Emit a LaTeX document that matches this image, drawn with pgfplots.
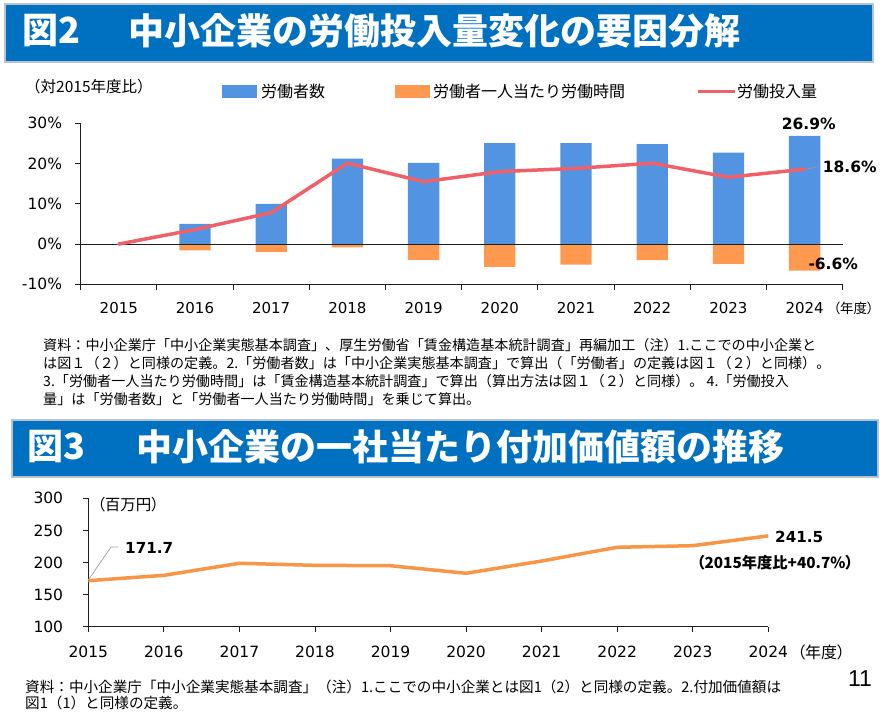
\documentclass[border=0pt]{standalone}
\usepackage{pgfplots}
\pgfplotsset{compat=1.18}
\usepackage{fontspec}
\setmainfont{DejaVu Sans}
\newfontfamily\jpp[RawFeature=+palt]{Noto Sans CJK JP}
\newfontfamily\jp{Noto Sans CJK JP}
\newfontfamily\pnum{Liberation Sans}
\definecolor{bannerblue}{RGB}{0,112,192}
\definecolor{bannerborder}{RGB}{185,195,205}
\definecolor{barblue}{RGB}{83,148,226}
\definecolor{barorange}{RGB}{255,153,80}
\definecolor{linered}{RGB}{240,96,104}
\definecolor{lineorange}{RGB}{247,150,70}
\definecolor{axcol}{RGB}{30,30,30}
\newcommand{\fs}[1]{\fontsize{#1}{#1}\selectfont}
\begin{document}
\begin{tikzpicture}
\path[use as bounding box, fill=white] (0pt,0pt) rectangle (883pt,-718pt);

% ---------- Banner 1 ----------
\filldraw[fill=bannerblue, draw=bannerborder, line width=1.2pt] (5pt,-4pt) rectangle (873pt,-62pt);
\node[anchor=west, inner sep=0pt, text=white, font=\jp\bfseries\fs{36}] at (22pt,-31pt) {図2};
\node[anchor=west, inner sep=0pt, text=white, font=\jp\bfseries\fs{36}] at (128pt,-31pt) {中小企業の労働投入量変化の要因分解};

% ---------- Chart 1 header / legend ----------
\node[anchor=west, inner sep=0pt, font=\jp\fs{15.5}] at (25pt,-86.7pt) {（対2015年度比）};
\fill[barblue] (222pt,-85pt) rectangle (257pt,-97.7pt);
\node[anchor=west, inner sep=0pt, font=\jp\fs{16}] at (261pt,-91pt) {労働者数};
\fill[barorange] (395pt,-85pt) rectangle (430pt,-97.7pt);
\node[anchor=west, inner sep=0pt, font=\jp\fs{16}] at (433pt,-91pt) {労働者一人当たり労働時間};
\draw[linered, line width=3.5pt] (698pt,-91.5pt) -- (735pt,-91.5pt);
\node[anchor=west, inner sep=0pt, font=\jp\fs{16}] at (737pt,-91pt) {労働投入量};

% ---------- Chart 1 ----------
\begin{axis}[
  at={(80.7pt,-284.3pt)}, anchor=south west,
  scale only axis, width=762pt, height=161pt,
  xmin=-0.5, xmax=9.5, ymin=-10, ymax=30,
  axis x line*=bottom, axis y line*=left,
  axis line style={axcol, line width=0.9pt},
  tick align=outside,
  tick style={axcol, line width=0.9pt},
  major tick length=5.5pt,
  xtick={-0.5,0.5,1.5,2.5,3.5,4.5,5.5,6.5,7.5,8.5,9.5},
  xticklabels={},
  extra x ticks={0,1,2,3,4,5,6,7,8,9},
  extra x tick labels={2015,2016,2017,2018,2019,2020,2021,2022,2023,2024},
  extra x tick style={major tick length=0pt, tick style={draw=none}},
  ytick={-10,0,10,20,30},
  yticklabels={-10\%,0\%,10\%,20\%,30\%},
  yticklabel style={font=\fs{15.5}, inner sep=0pt, xshift=-13pt},
  xticklabel style={font=\fs{15}, inner sep=0pt, yshift=-18pt},
  clip=false,
]
\addplot[ybar, bar width=31.3pt, bar shift=0pt, fill=barblue, draw=none]
  coordinates {(1,5.0)(2,10.0)(3,21.2)(4,20.2)(5,25.1)(6,25.1)(7,24.8)(8,22.7)(9,26.9)};
\addplot[ybar, bar width=31.3pt, bar shift=0pt, fill=barorange, draw=none]
  coordinates {(1,-1.6)(2,-2.0)(3,-0.8)(4,-3.9)(5,-5.7)(6,-5.1)(7,-4.0)(8,-4.9)(9,-6.6)};
\addplot[axcol, line width=0.9pt] coordinates {(-0.5,0)(9.5,0)};
\addplot[linered, line width=3.5pt, line join=round, line cap=round]
  coordinates {(0,0)(1,3.6)(2,7.8)(3,20.1)(4,15.5)(5,18.0)(6,18.8)(7,20.1)(8,16.6)(9,18.6)};
\end{axis}
\node[anchor=center, inner sep=0pt, font=\bfseries\fs{15.5}] at (808.7pt,-124pt) {26.9\%};
\draw[gray!80, line width=0.8pt] (806pt,-169.3pt) -- (817pt,-166.7pt);
\node[anchor=west, inner sep=0pt, font=\bfseries\fs{15.5}] at (822.7pt,-166.7pt) {18.6\%};
\node[anchor=west, inner sep=0pt, font=\bfseries\fs{15.5}] at (808.3pt,-264pt) {-6.6\%};
\node[anchor=east, inner sep=0pt, font=\jpp\fs{13.5}] at (874pt,-308pt) {（年度）};

% ---------- Notes 1 ----------
\begin{scope}[every node/.style={anchor=west, inner sep=0pt, font=\jp\fs{14.1}}]
\node at (43pt,-345pt) {資料：中小企業庁「中小企業実態基本調査」、厚生労働省「賃金構造基本統計調査」再編加工（注）1.ここでの中小企業と};
\node at (43pt,-363pt) {は図１（２）と同様の定義。2.「労働者数」は「中小企業実態基本調査」で算出（「労働者」の定義は図１（２）と同様）。};
\node at (43pt,-381pt) {3.「労働者一人当たり労働時間」は「賃金構造基本統計調査」で算出（算出方法は図１（２）と同様）。 4.「労働投入};
\node at (43pt,-399pt) {量」は「労働者数」と「労働者一人当たり労働時間」を乗じて算出。};
\end{scope}

% ---------- Banner 2 ----------
\filldraw[fill=bannerblue, draw=bannerborder, line width=1.2pt] (12pt,-420pt) rectangle (878pt,-477pt);
\node[anchor=west, inner sep=0pt, text=white, font=\jp\bfseries\fs{36}] at (27pt,-447pt) {図3};
\node[anchor=west, inner sep=0pt, text=white, font=\jp\bfseries\fs{36}] at (136.7pt,-447pt) {中小企業の一社当たり付加価値額の推移};

% ---------- Chart 2 ----------
\begin{axis}[
  at={(88.3pt,-626.7pt)}, anchor=south west,
  scale only axis, width=680pt, height=128.4pt,
  xmin=2015, xmax=2024, ymin=100, ymax=300,
  axis x line*=bottom, axis y line*=left,
  axis line style={axcol, line width=0.9pt},
  tick align=outside,
  tick style={axcol, line width=0.9pt},
  major tick length=5.5pt,
  xtick={2015,2016,2017,2018,2019,2020,2021,2022,2023,2024},
  xticklabels={2015,2016,2017,2018,2019,2020,2021,2022,2023,2024},
  ytick={100,150,200,250,300},
  yticklabels={100,150,200,250,300},
  yticklabel style={font=\fs{15.5}, inner sep=0pt, xshift=-19.5pt},
  xticklabel style={font=\fs{15.5}, inner sep=0pt, yshift=-14pt},
  clip=false,
]
\addplot[lineorange, line width=3.5pt, line join=round]
  coordinates {(2015,171.7)(2016,180.0)(2017,198.8)(2018,195.6)(2019,195.0)(2020,183.2)(2021,202.3)(2022,223.7)(2023,226.2)(2024,241.5)};
\end{axis}
\node[anchor=west, inner sep=0pt, font=\jpp\fs{15.5}] at (97pt,-505pt) {（百万円）};
\draw[gray!70, line width=0.8pt] (88.3pt,-580pt) -- (111pt,-547pt) -- (118.3pt,-547pt);
\node[anchor=west, inner sep=0pt, font=\bfseries\fs{15.2}] at (125pt,-547.7pt) {171.7};
\node[anchor=west, inner sep=0pt, font=\bfseries\fs{15.2}] at (775pt,-537.3pt) {241.5};
\node[anchor=west, inner sep=0pt, font=\jpp\bfseries\fs{15.3}] at (696.7pt,-562.3pt) {（2015年度比+40.7\%）};
\node[anchor=west, inner sep=0pt, font=\jpp\fs{16}] at (797pt,-652pt) {（年度）};

% ---------- Notes 2 ----------
\begin{scope}[every node/.style={anchor=west, inner sep=0pt, font=\jp\fs{14.6}}]
\node at (25pt,-687pt) {資料：中小企業庁「中小企業実態基本調査」（注）1.ここでの中小企業とは図1（2）と同様の定義。2.付加価値額は};
\node at (25pt,-703.3pt) {図1（1）と同様の定義。};
\end{scope}
\node[anchor=center, inner sep=0pt, font=\pnum\fs{23}] at (860pt,-679pt) {11};
\end{tikzpicture}
\end{document}
